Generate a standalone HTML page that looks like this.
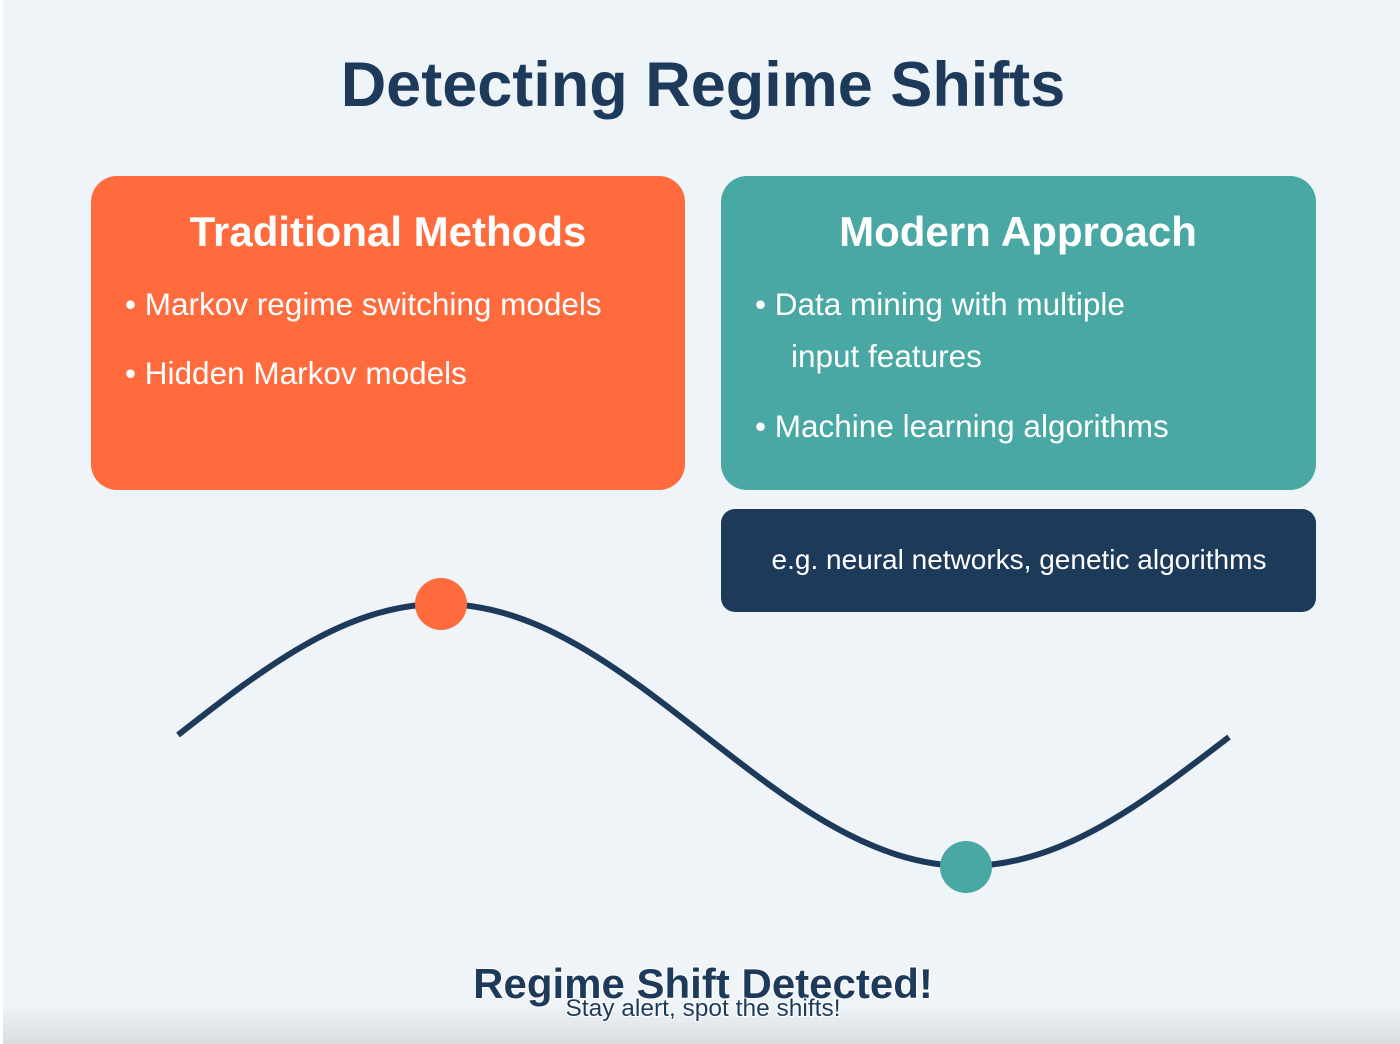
<!DOCTYPE html>
<html><head><meta charset="utf-8"><style>
html,body{margin:0;padding:0;width:1400px;height:1044px;overflow:hidden;background:#eff4f9;}
svg{display:block}
text{font-family:"Liberation Sans",Arial,sans-serif}
</style></head><body>
<svg width="1400" height="1044" viewBox="0 0 1400 1044" xmlns="http://www.w3.org/2000/svg">
<defs>
<linearGradient id="g" x1="0" y1="0" x2="0" y2="1">
<stop offset="0" stop-color="#eff4f9"/><stop offset="1" stop-color="#d9dde2"/>
</linearGradient>
</defs>
<rect width="1400" height="1044" fill="#eff4f9"/>
<rect x="0" y="1005" width="1400" height="39" fill="url(#g)"/>
<rect x="0" y="0" width="3" height="1044" fill="#ffffff"/>
<text x="703" y="106" text-anchor="middle" font-size="63" font-weight="bold" fill="#1e3a5a">Detecting Regime Shifts</text>
<rect x="91" y="176" width="594" height="314" rx="26" fill="#ff6b3d"/>
<rect x="721" y="176" width="595" height="314" rx="26" fill="#4aa8a4"/>
<rect x="721" y="509" width="595" height="103" rx="14" fill="#1e3a5a"/>
<g fill="#fff">
<text x="388" y="246" text-anchor="middle" font-size="42" font-weight="bold">Traditional Methods</text>
<text x="125" y="315" font-size="31.5">• Markov regime switching models</text>
<text x="125" y="384" font-size="31.5">• Hidden Markov models</text>
<text x="1018" y="246" text-anchor="middle" font-size="42" font-weight="bold">Modern Approach</text>
<text x="755" y="315" font-size="31.5">• Data mining with multiple</text>
<text x="791" y="367" font-size="31.5">input features</text>
<text x="755" y="437" font-size="31.5">• Machine learning algorithms</text>
<text x="1019" y="569" text-anchor="middle" font-size="28">e.g. neural networks, genetic algorithms</text>
</g>
<path fill="none" stroke="#1e3a5a" stroke-width="6" d="M178,735 C263.8,667.9 345.8,604 441,604 C536.2,604 618.2,667.9 704,735 C789.8,802.1 871.8,866 967,866 C1062.2,866 1144.2,802.1 1229,737"/>
<circle cx="441" cy="604" r="26" fill="#ff6b3d"/>
<circle cx="966" cy="867" r="26" fill="#4aa8a4"/>
<text x="703" y="998" text-anchor="middle" font-size="42" font-weight="bold" fill="#1e3a5a" stroke="#fff" stroke-width="2" paint-order="stroke">Regime Shift Detected!</text>
<text x="703" y="1016" text-anchor="middle" font-size="24.5" fill="#1e3a5a" stroke="#fff" stroke-width="2" paint-order="stroke">Stay alert, spot the shifts!</text>
</svg>
</body></html>
